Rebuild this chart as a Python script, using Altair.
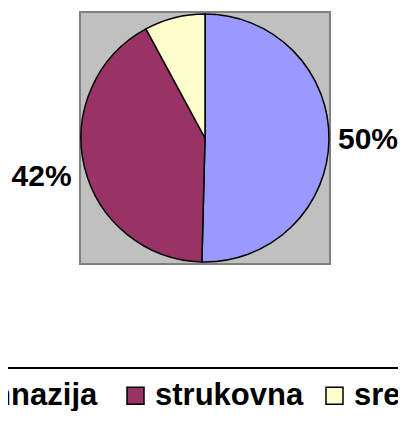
import altair as alt
import pandas as pd

categories = ["gimnazija", "strukovna", "srednja"]
values = [50.4, 41.7, 7.9]
labels = ["50%", "42%", "8%"]
colors = ["#9999FF", "#993366", "#FFFFCC"]

df = pd.DataFrame({
    "cat": categories,
    "value": values,
    "label": labels,
    "idx": list(range(len(categories))),
})

# plot-area background (grey square behind the pie)
background = alt.Chart(pd.DataFrame({"k": [0]})).mark_rect(
    fill="#C0C0C0", stroke="#808080", strokeWidth=2
).encode(
    x=alt.value(0), x2=alt.value("width"), y=alt.value(0), y2=alt.value("height")
)

base = alt.Chart(df).encode(
    theta=alt.Theta("value:Q", stack=True),
    order=alt.Order("idx:Q"),
)

pie = base.mark_arc(radius=124, stroke="black", strokeWidth=1.5).encode(
    color=alt.Color(
        "cat:N",
        scale=alt.Scale(domain=categories, range=colors),
        sort=categories,
        legend=alt.Legend(
            title=None,
            orient="none",
            direction="horizontal",
            legendX=-171,
            legendY=356,
            symbolType="square",
            symbolSize=289,
            symbolStrokeColor="black",
            symbolStrokeWidth=1.5,
            symbolOpacity=1,
            labelFont="Liberation Sans",
            labelFontWeight="bold",
            labelFontSize=31,
            labelColor="black",
            labelOffset=4,
            labelLimit=0,
            columnPadding=15,
            gridAlign="all",
            padding=12,
        ),
    )
)

text = base.mark_text(
    radius=165.5, dx=-2.5, fontSize=30, fontWeight="bold", font="Liberation Sans", color="black"
).encode(text="label:N")

chart = (
    alt.layer(background, pie, text)
    .properties(
        width=250,
        height=252,
        padding={"left": 72, "top": 4, "right": 68, "bottom": 147},
        autosize=alt.AutoSizeParams(type="none"),
        background="white",
    )
    .configure_view(strokeWidth=0)
    .configure_legend(strokeColor="black", strokeWidth=2, cornerRadius=0)
)

chart.save("out.html", embed_options={"renderer": "svg", "actions": False})
